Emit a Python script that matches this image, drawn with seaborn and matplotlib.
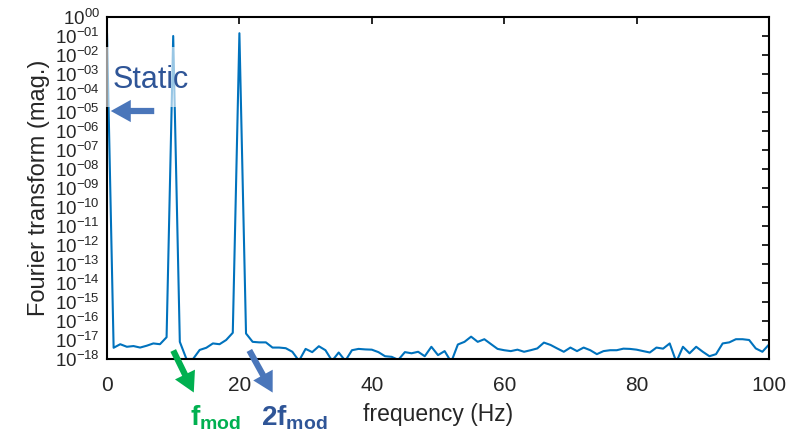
import numpy as np
import matplotlib.pyplot as plt
import seaborn as sns
from matplotlib.patches import FancyArrowPatch, Rectangle

# Spectrum (1 Hz bins, 0..100 Hz)
freq = np.arange(0, 101)
mag = [
    0.14, 3.9e-18, 6e-18, 4.4e-18, 4.8e-18, 4e-18, 5e-18, 6.6e-18, 6e-18, 1.4e-17,
    0.1, 8e-18, 1e-18, 1e-18, 3e-18, 3.9e-18, 6.6e-18, 6e-18, 1e-17, 2.4e-17,
    0.14, 2.2e-17, 8e-18, 7.5e-18, 7.5e-18, 4e-18, 4e-18, 3.7e-18, 2.4e-18, 8e-19,
    3.4e-18, 2.3e-18, 4.7e-18, 2.9e-18, 8e-19, 2.2e-18, 8e-19, 2.9e-18, 3.4e-18, 3.2e-18,
    3.1e-18, 2.3e-18, 1.4e-18, 1.3e-18, 9e-19, 2.3e-18, 2e-18, 2.4e-18, 1.4e-18, 4.4e-18,
    1.6e-18, 2.6e-18, 7e-19, 5.8e-18, 8e-18, 1.5e-17, 8e-18, 1.1e-17, 6.1e-18, 3.4e-18,
    2.9e-18, 2.6e-18, 3.1e-18, 2.4e-18, 2.9e-18, 3.6e-18, 7.3e-18, 5.5e-18, 3.6e-18, 2.4e-18,
    4e-18, 2.6e-18, 4e-18, 2.9e-18, 1.8e-18, 2.6e-18, 2.9e-18, 2.9e-18, 3.5e-18, 3.4e-18,
    3.1e-18, 2.6e-18, 2.2e-18, 4e-18, 3.5e-18, 6.6e-18, 7e-19, 4.4e-18, 2e-18, 4.4e-18,
    2.4e-18, 1.4e-18, 1.8e-18, 6.6e-18, 7.5e-18, 1.1e-17, 1.1e-17, 1e-17, 3.6e-18, 2.4e-18,
    5.8e-18,
]
x_ticks = [0, 20, 40, 60, 80, 100]
y_exps = list(range(-18, 1))
y_labels = [f"$10^{{-{-k:02d}}}$" if k < 0 else "$10^{00}$" for k in y_exps]

sns.set_style("white")
plt.rcParams["font.family"] = ["Liberation Sans", "DejaVu Sans"]
plt.rcParams["mathtext.fontset"] = "custom"
plt.rcParams["mathtext.rm"] = "Liberation Sans"
plt.rcParams["mathtext.it"] = "Liberation Sans"
plt.rcParams["mathtext.bf"] = "Liberation Sans:bold"
plt.rcParams["mathtext.default"] = "regular"

W, H = 809, 440
fig = plt.figure(figsize=(W / 100, H / 100), dpi=100)
ax = fig.add_axes([107 / W, 1 - 359 / H, (769 - 107) / W, (359 - 17) / H])


def px(x, y):
    return (x / W, 1 - y / H)


sns.lineplot(x=freq, y=mag, ax=ax, color="#0072BD", linewidth=1.5)
ax.set_yscale("log")
ax.set_xlim(0, 100)
ax.set_ylim(1e-18, 1)
ax.set_xticks(x_ticks)
ax.set_xticklabels([str(t) for t in x_ticks], fontsize=15, color="#262626")
ax.set_yticks([10.0 ** k for k in y_exps])
ax.set_yticklabels(y_labels, fontsize=13.5, color="#262626")
ax.tick_params(axis="both", which="both", direction="in", top=True, right=True,
               color="black")
ax.tick_params(axis="both", which="major", length=5, width=1.2)
ax.tick_params(axis="x", which="major", pad=12)
ax.tick_params(axis="y", which="major", pad=5)
ax.tick_params(axis="y", which="minor", length=3, width=0.8)
for s in ax.spines.values():
    s.set_color("black")
    s.set_linewidth(1.5)
ax.set_xlabel("frequency (Hz)", fontsize=16.5, color="#262626", labelpad=6)
ax.set_ylabel("Fourier transform (mag.)", fontsize=17, color="#262626", labelpad=4)

# translucent box behind the "Static" label
fig.add_artist(Rectangle(px(100, 107), 100 / W, 60 / H, transform=fig.transFigure,
                         facecolor="white", edgecolor="none", alpha=0.6, zorder=2))
fig.text(*px(113, 88), "Static", fontsize=22, color="#2F5597", va="baseline", zorder=3)

arrow_kw = dict(transform=fig.transFigure,
                arrowstyle="simple,head_length=0.9,head_width=1.0,tail_width=0.28",
                mutation_scale=16, zorder=3, linewidth=0)
fig.add_artist(FancyArrowPatch(px(157, 111), px(108, 111), color="#4A76BA", **arrow_kw))
fig.add_artist(FancyArrowPatch(px(172, 348), px(195, 395), color="#00B050", **arrow_kw))
fig.add_artist(FancyArrowPatch(px(248, 348), px(274, 395), color="#4A76BA", **arrow_kw))

fig.text(*px(190, 425), r"$\mathbf{f_{mod}}$", fontsize=20, color="#00B050", va="baseline")
fig.text(*px(261, 425), r"$\mathbf{2f_{mod}}$", fontsize=20, color="#2F5597", va="baseline")

fig.savefig("out.png", dpi=100)
